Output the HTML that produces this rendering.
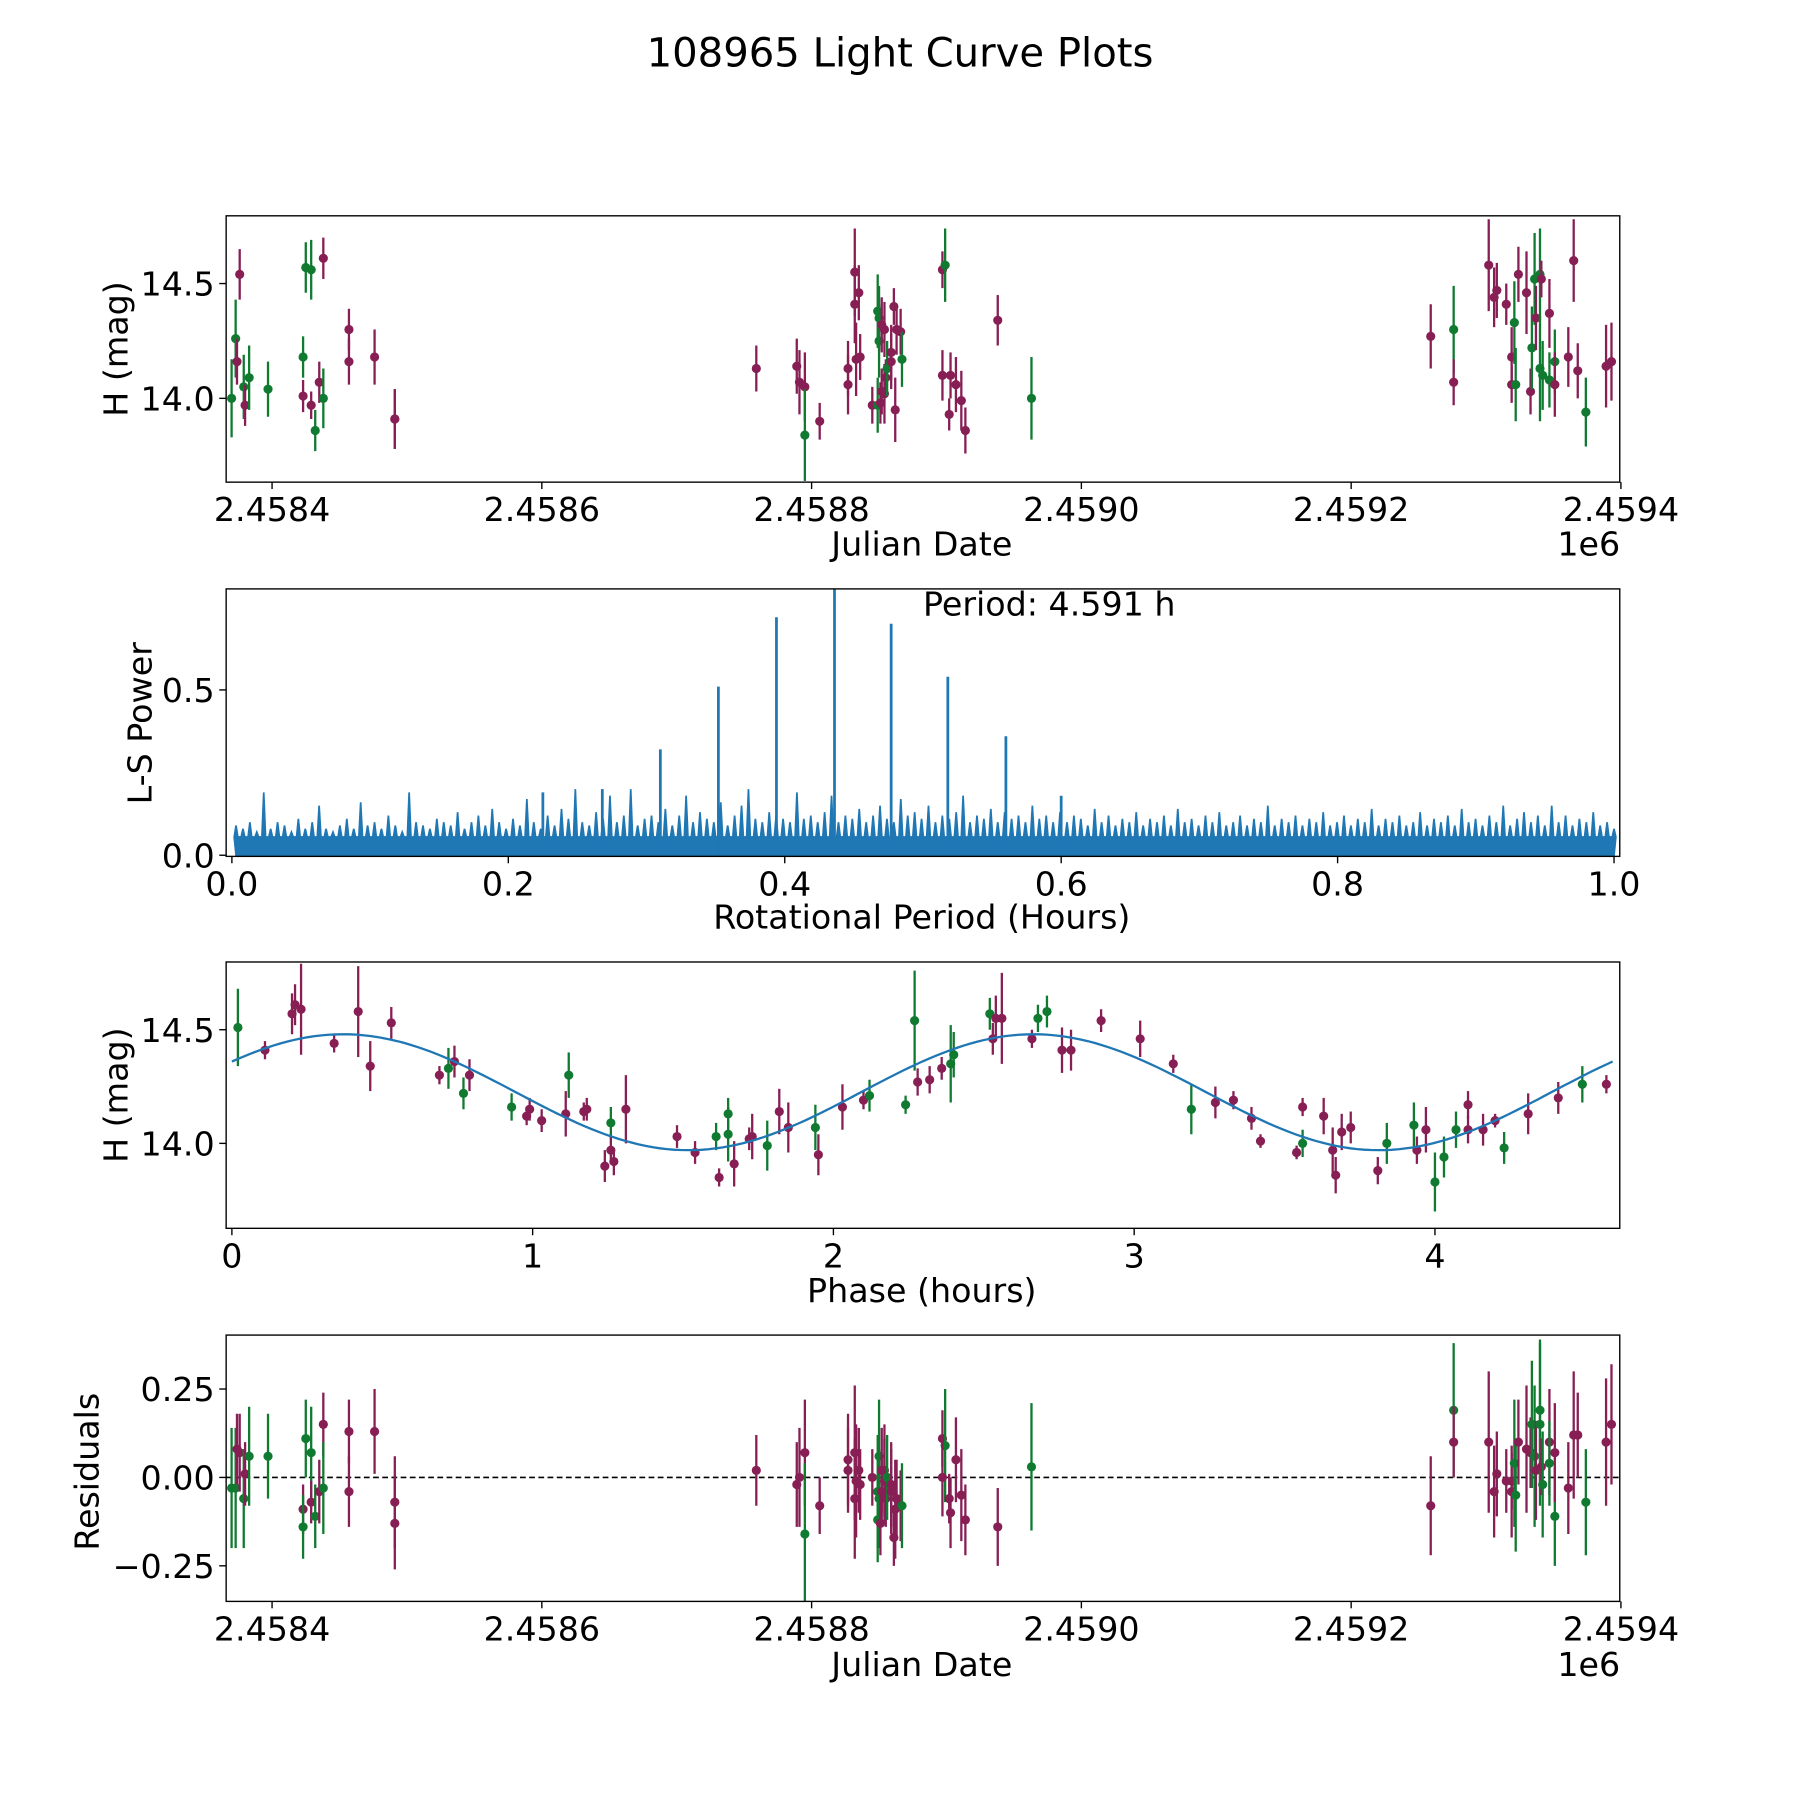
<!DOCTYPE html>
<html><head><meta charset="utf-8"><style>
html,body{margin:0;padding:0;background:#fff}
svg{display:block}
text{font-family:"DejaVu Sans","Liberation Sans",sans-serif;fill:#000}
</style></head><body>
<svg id="fig" width="1800" height="1800" viewBox="0 0 1568 1568" xmlns="http://www.w3.org/2000/svg">
<rect width="1568" height="1568" fill="#fff"/>
<text x="784" y="58" font-size="35" text-anchor="middle">108965 Light Curve Plots</text>
</svg>
<script>
// ---- Panel 1 data: days since JD 2458400, H mag, error, band
const jdDays = [-30,-27,-26,-24,-21,-20,-17,-3,23,23,25,29,29,32,35,38,38,57,57,76,91,91,
359,389,391,395,395,406,427,427,432,432,435,433,436,445,449,449,450,450,451,452,452,454,454,455,456,459,459,461,462,463,466,467,497,499,497,502,503,507,511,514,538,563,
859,876,876,902,906,908,915,919,919,921,922,924,930,933,934,936,937,940,940,941,942,947,947,951,951,961,965,968,974,989,993];
const hMag = [14.00,14.26,14.16,14.54,14.05,13.97,14.09,14.04,14.01,14.18,14.57,14.56,13.97,13.86,14.07,14.61,14.00,14.30,14.16,14.18,13.91,13.91,
14.13,14.14,14.07,14.05,13.84,13.90,14.06,14.13,14.55,14.41,14.46,14.17,14.18,13.97,13.97,14.38,14.35,14.25,13.98,14.32,14.03,14.02,14.30,14.09,14.13,14.20,14.16,14.40,13.95,14.30,14.29,14.17,14.56,14.58,14.10,13.93,14.10,14.06,13.99,13.86,14.34,14.00,
14.27,14.30,14.07,14.58,14.44,14.47,14.41,14.18,14.06,14.33,14.06,14.54,14.46,14.03,14.22,14.52,14.35,14.13,14.54,14.52,14.10,14.37,14.08,14.16,14.06,14.18,14.60,14.12,13.94,14.14,14.16];
const hErr = [0.17,0.17,0.10,0.11,0.14,0.09,0.14,0.12,0.07,0.09,0.11,0.13,0.06,0.09,0.09,0.09,0.13,0.09,0.10,0.12,0.13,0.13,
0.10,0.12,0.14,0.15,0.20,0.08,0.13,0.12,0.19,0.17,0.12,0.16,0.10,0.08,0.12,0.16,0.14,0.16,0.09,0.12,0.10,0.13,0.12,0.08,0.12,0.12,0.12,0.08,0.14,0.11,0.10,0.12,0.08,0.16,0.11,0.07,0.10,0.12,0.13,0.10,0.11,0.18,
0.14,0.19,0.10,0.20,0.13,0.12,0.09,0.13,0.08,0.18,0.16,0.12,0.18,0.10,0.18,0.20,0.14,0.23,0.20,0.08,0.15,0.15,0.12,0.14,0.14,0.13,0.18,0.12,0.15,0.18,0.17];
const band = ["g","g","r","r","g","r","g","g","r","g","g","g","r","g","r","r","g","r","r","r","r","r",
"r","r","r","r","g","r","r","r","r","r","r","r","r","r","g","g","g","g","r","r","r","r","r","r","g","r","r","r","r","r","r","g","r","g","r","r","r","r","r","r","r","g",
"r","g","r","r","r","r","r","r","r","g","g","r","r","r","g","g","r","g","g","r","g","r","g","g","r","r","r","r","g","r","r"];
const resid = [-0.03,-0.03,0.08,0.07,-0.06,0.01,0.06,0.06,-0.09,-0.14,0.11,0.07,-0.07,-0.11,-0.04,0.15,-0.03,0.13,-0.04,0.13,-0.07,-0.13,
0.02,-0.02,0.00,0.07,-0.16,-0.08,0.05,0.02,0.07,-0.06,0.02,-0.01,-0.02,0.00,-0.12,-0.04,-0.06,0.06,-0.13,0.02,-0.04,0.02,-0.01,-0.06,0.00,-0.04,-0.02,-0.17,-0.09,-0.06,-0.08,-0.08,0.11,0.09,0.00,-0.06,-0.10,0.05,-0.05,-0.12,-0.14,0.03,
-0.08,0.19,0.10,0.10,-0.04,0.01,-0.01,-0.04,-0.01,0.04,-0.05,0.10,0.08,0.07,0.15,0.06,0.02,0.15,0.19,0.03,-0.02,0.10,0.04,-0.11,0.07,-0.03,0.12,0.12,-0.07,0.10,0.15];

// ---- Phase-folded data
const phaseH = [0.02,0.11,0.20,0.21,0.23,0.34,0.42,0.46,0.53,0.69,0.72,0.74,0.77,0.79,0.93,0.98,0.99,1.03,1.11,1.12,1.17,1.18,1.24,1.26,1.26,1.27,1.31,1.48,1.54,1.61,1.62,1.65,1.65,1.67,1.72,1.73,1.78,1.82,1.85,1.94,1.95,2.03,2.10,2.12,2.24,2.27,2.28,2.32,2.36,2.39,2.40,2.52,2.53,2.54,2.56,2.66,2.68,2.71,2.76,2.79,2.89,3.02,3.13,3.19,3.27,3.33,3.39,3.42,3.54,3.56,3.56,3.63,3.66,3.67,3.69,3.72,3.81,3.84,3.93,3.94,3.97,4.00,4.03,4.07,4.11,4.11,4.16,4.20,4.23,4.31,4.41,4.49,4.57];
const phaseMag = [14.51,14.41,14.57,14.61,14.59,14.44,14.58,14.34,14.53,14.30,14.33,14.36,14.22,14.30,14.16,14.12,14.15,14.10,14.13,14.30,14.14,14.15,13.90,14.09,13.97,13.92,14.15,14.03,13.96,14.03,13.85,14.13,14.04,13.91,14.02,14.03,13.99,14.14,14.07,14.07,13.95,14.16,14.19,14.21,14.17,14.54,14.27,14.28,14.33,14.35,14.39,14.57,14.46,14.55,14.55,14.46,14.55,14.58,14.41,14.41,14.54,14.46,14.35,14.15,14.18,14.19,14.11,14.01,13.96,14.16,14.00,14.12,13.97,13.86,14.05,14.07,13.88,14.00,14.08,13.97,14.06,13.83,13.94,14.06,14.17,14.06,14.06,14.10,13.98,14.13,14.20,14.26,14.26];
const phaseErr = [0.17,0.04,0.09,0.09,0.20,0.04,0.20,0.11,0.07,0.04,0.09,0.07,0.07,0.07,0.06,0.04,0.05,0.05,0.10,0.10,0.04,0.05,0.07,0.07,0.06,0.06,0.15,0.05,0.05,0.06,0.04,0.07,0.12,0.10,0.05,0.10,0.11,0.10,0.11,0.10,0.09,0.10,0.04,0.07,0.04,0.22,0.06,0.06,0.05,0.17,0.10,0.07,0.07,0.10,0.20,0.04,0.06,0.07,0.10,0.09,0.05,0.08,0.04,0.11,0.07,0.04,0.05,0.03,0.03,0.04,0.06,0.08,0.10,0.08,0.08,0.07,0.06,0.09,0.10,0.06,0.10,0.13,0.09,0.08,0.06,0.06,0.07,0.03,0.07,0.09,0.07,0.08,0.04];
const phaseBand = ["g","r","r","r","r","r","r","r","r","r","g","r","g","r","g","r","r","r","r","g","r","r","r","g","r","r","r","r","r","g","r","g","g","r","r","r","g","r","r","g","r","r","r","g","g","g","r","r","r","g","g","g","r","r","r","r","g","g","r","r","r","r","r","g","r","r","r","r","r","r","g","r","r","r","r","r","r","g","g","r","r","g","g","g","r","r","r","r","g","r","r","g","r"];
const fitMean = 14.225, fitAmp = 0.255, fitPeakPhase = 0.37, fitPeriod = 4.591;

// ---- Periodogram data
const noiseFloor = 0.055;
const noisePeaks = [0.09,0.08,0.10,0.07,0.19,0.08,0.10,0.09,0.07,0.11,0.08,0.10,0.15,0.08,0.07,0.09,0.11,0.08,0.16,0.09,0.10,0.08,0.12,0.09,0.07,0.19,0.10,0.09,0.08,0.11,0.10,0.09,0.13,0.08,0.10,0.12,0.09,0.14,0.10,0.08,
0.11,0.09,0.17,0.10,0.08,0.12,0.09,0.14,0.11,0.20,0.10,0.09,0.13,0.11,0.18,0.10,0.12,0.20,0.09,0.11,0.12,0.10,0.14,0.09,0.12,0.18,0.10,0.13,0.11,0.10,0.16,0.09,0.12,0.15,0.20,0.11,0.10,0.13,0.12,0.11,
0.10,0.19,0.11,0.12,0.10,0.13,0.18,0.10,0.12,0.11,0.14,0.10,0.12,0.15,0.11,0.10,0.17,0.12,0.13,0.11,0.15,0.10,0.12,0.11,0.13,0.18,0.10,0.12,0.11,0.14,0.10,0.13,0.11,0.12,0.10,0.15,0.11,0.12,0.10,0.13,
0.10,0.12,0.11,0.09,0.14,0.10,0.12,0.09,0.11,0.10,0.13,0.09,0.11,0.10,0.12,0.09,0.14,0.10,0.11,0.09,0.12,0.10,0.13,0.09,0.10,0.12,0.09,0.11,0.10,0.15,0.09,0.11,0.10,0.12,0.09,0.11,0.10,0.13,0.09,0.10,
0.12,0.09,0.11,0.10,0.14,0.09,0.11,0.10,0.12,0.09,0.10,0.13,0.09,0.11,0.10,0.12,0.09,0.14,0.10,0.11,0.09,0.12,0.10,0.15,0.09,0.11,0.13,0.10,0.12,0.09,0.15,0.10,0.12,0.09,0.11,0.10,0.13,0.09,0.10,0.08];
const spikePeriods = [0.225,0.268,0.310,0.352,0.394,0.436,0.477,0.518,0.560,0.600];
const spikePowers = [0.19,0.20,0.32,0.51,0.72,0.86,0.70,0.54,0.36,0.18];
const periodLabel = "Period: 4.591 h";

// ---- Tick labels
const jdTicks = [2458400,2458600,2458800,2459000,2459200,2459400];
const jdTickLabels = ["2.4584","2.4586","2.4588","2.4590","2.4592","2.4594"];
const hTicks = [14.0,14.5]; const hTickLabels = ["14.0","14.5"];
const pwTicks = [0,0.5]; const pwTickLabels = ["0.0","0.5"];
const perTicks = [0,0.2,0.4,0.6,0.8,1.0]; const perTickLabels = ["0.0","0.2","0.4","0.6","0.8","1.0"];
const phTicks = [0,1,2,3,4]; const phTickLabels = ["0","1","2","3","4"];
const rTicks = [-0.25,0,0.25]; const rTickLabels = ["\u22120.25","0.00","0.25"];

const NS = "http://www.w3.org/2000/svg";
const svg = document.getElementById('fig');
const COL = {g:"#107a31", r:"#871f55"};
const BLUE = "#1f77b4";
const FS = 29;
function mk(tag, attrs, parent){const e=document.createElementNS(NS,tag);for(const k in attrs)e.setAttribute(k,attrs[k]);(parent||svg).appendChild(e);return e;}
function lin(d0,d1,r0,r1){return v=>r0+(v-d0)*(r1-r0)/(d1-d0);}

const L=197,R=1411;
function frame(top,bot,name){
  const g=mk('g',{});
  
  
  const cid='clip-'+name;
  const cp=mk('clipPath',{id:cid},g); mk('rect',{x:L,y:top,width:R-L,height:bot-top},cp);
  const inner=mk('g',{'clip-path':'url(#'+cid+')'},g);
  return {g,inner};
}
function border(g,top,bot){mk('rect',{x:L,y:top,width:R-L,height:bot-top,fill:'none',stroke:'#000','stroke-width':1.2},g);}
function xticks(g,bot,ticks,labels,sx,name){
  ticks.forEach((t,i)=>{const x=sx(t);
    mk('line',{x1:x,y1:bot,x2:x,y2:bot+6,stroke:'#000','stroke-width':1.2},g);
    const tx=mk('text',{x:x,y:bot+34,'font-size':FS,'text-anchor':'middle'},g);
    
    
    tx.textContent=labels[i];});
}
function yticks(g,ticks,labels,sy,name){
  ticks.forEach((t,i)=>{const y=sy(t);
    mk('line',{x1:L-6,y1:y,x2:L,y2:y,stroke:'#000','stroke-width':1.2},g);
    const tx=mk('text',{x:L-10,y:y+10.5,'font-size':FS,'text-anchor':'end'},g);
    
    
    tx.textContent=labels[i];});
}
function label(g,x,y,txt,rot,name){
  const t=mk('text',{x:x,y:y,'font-size':FS,'text-anchor':'middle'},g);
  if(rot)t.setAttribute('transform','rotate(-90 '+x+' '+y+')');
  
  
  t.textContent=txt;
}
function errpt(parent,x,y,y1,y2,c,name){
  mk('line',{x1:x,y1:y1,x2:x,y2:y2,stroke:c,'stroke-width':2},parent);
  const p=mk('circle',{cx:x,cy:y,r:4,fill:c},parent);
  
  
}

const sxJD = lin(2458400,2458600,237,472);

// Panel 1
{const T=188,B=420; const sy=lin(14,14.5,347,247); const f=frame(T,B,'raw-lightcurve-panel');
 jdDays.forEach((d,i)=>{const x=sxJD(2458400+d);errpt(f.inner,x,sy(hMag[i]),sy(hMag[i]+hErr[i]),sy(hMag[i]-hErr[i]),COL[band[i]],'raw-point');});
 border(f.g,T,B); xticks(f.g,B,jdTicks,jdTickLabels,sxJD,'jd-x'); yticks(f.g,hTicks,hTickLabels,sy,'h-y');
 label(f.g,803,484,'Julian Date',false,'x-axis-title'); label(f.g,1384,484,'1e6',false,'x-offset-label');
 label(f.g,111,304,'H (mag)',true,'y-axis-title');}

// Panel 2
{const T=513,B=746; const sx=lin(0,1,202,1406), sy=lin(0,0.5,745,601); const f=frame(T,B,'periodogram-panel');
 const n=noisePeaks.length; let pts=[];
 noisePeaks.forEach((v,i)=>{const p=0.003+i*(0.997/(n-1));const x=sx(p);
   pts.push((x-1.6)+','+sy(noiseFloor)); pts.push(x+','+sy(v)); pts.push((x+1.6)+','+sy(noiseFloor));});
 const poly=mk('polygon',{points:sx(0.003)+','+sy(0)+' '+pts.join(' ')+' '+sx(1)+','+sy(0),fill:BLUE,stroke:BLUE,'stroke-width':1.5},f.inner);
 
 
 spikePeriods.forEach((p,i)=>{const l=mk('line',{x1:sx(p),y1:sy(0),x2:sx(p),y2:sy(spikePowers[i]),stroke:BLUE,'stroke-width':2.4},f.inner);
   
   });
 border(f.g,T,B); xticks(f.g,B,perTicks,perTickLabels,sx,'period-x'); yticks(f.g,pwTicks,pwTickLabels,sy,'power-y');
 label(f.g,803,809,'Rotational Period (Hours)',false,'x-axis-title'); label(f.g,132,630,'L-S Power',true,'y-axis-title');
 label(f.g,914,536,periodLabel,false,'period-annotation');}

// Panel 3
{const T=838,B=1070; const sx=lin(0,1,202,464), sy=lin(14,14.5,996,897); const f=frame(T,B,'phase-folded-panel');
 phaseH.forEach((p,i)=>{const m=phaseMag[i],e=phaseErr[i];errpt(f.inner,sx(p),sy(m),sy(m+e),sy(m-e),COL[phaseBand[i]],'phase-point');});
 let d=''; for(let k=0;k<=200;k++){const t=fitPeriod*k/200;const h=fitMean+fitAmp*Math.cos(4*Math.PI*(t-fitPeakPhase)/fitPeriod);d+=(k?'L':'M')+sx(t).toFixed(1)+' '+sy(h).toFixed(1);}
 const fit=mk('path',{d:d,fill:'none',stroke:BLUE,'stroke-width':2},f.inner);
 
 
 border(f.g,T,B); xticks(f.g,B,phTicks,phTickLabels,sx,'phase-x'); yticks(f.g,hTicks,hTickLabels,sy,'h-y');
 label(f.g,803,1134,'Phase (hours)',false,'x-axis-title'); label(f.g,111,954,'H (mag)',true,'y-axis-title');}

// Panel 4
{const T=1163,B=1395; const sy=lin(0,0.25,1287,1210); const f=frame(T,B,'residuals-panel');
 const z=mk('line',{x1:L,y1:sy(0),x2:R,y2:sy(0),stroke:'#000','stroke-width':1.4,'stroke-dasharray':'5,3'},f.inner);
 
 
 jdDays.forEach((d,i)=>{const x=sxJD(2458400+d);errpt(f.inner,x,sy(resid[i]),sy(resid[i]+hErr[i]),sy(resid[i]-hErr[i]),COL[band[i]],'residual-point');});
 border(f.g,T,B); xticks(f.g,B,jdTicks,jdTickLabels,sxJD,'jd-x'); yticks(f.g,rTicks,rTickLabels,sy,'resid-y');
 label(f.g,803,1460,'Julian Date',false,'x-axis-title'); label(f.g,1384,1460,'1e6',false,'x-offset-label');
 label(f.g,86,1282,'Residuals',true,'y-axis-title');}
</script>
</body></html>
